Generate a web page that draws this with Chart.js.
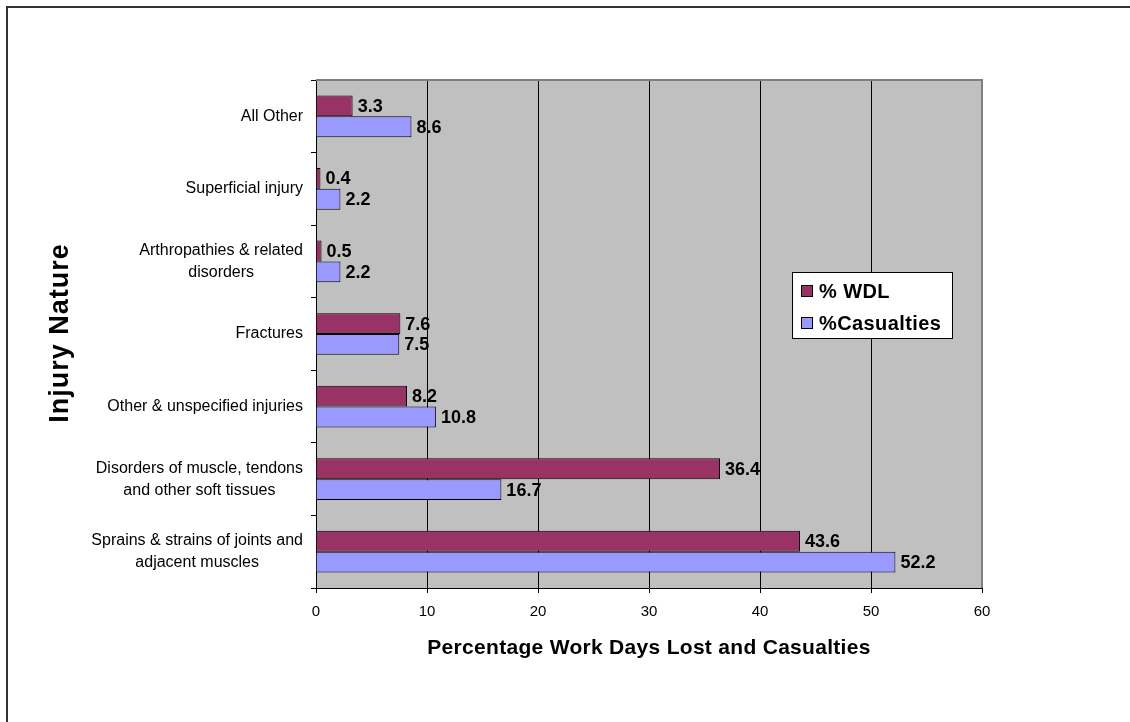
<!DOCTYPE html>
<html>
<head>
<meta charset="utf-8">
<style>
  html, body { margin: 0; padding: 0; background: #ffffff; }
  #wrap { position: relative; width: 1130px; height: 722px; }
</style>
<script src="https://cdn.jsdelivr.net/npm/chart.js@4.4.1/dist/chart.umd.min.js"></script>
</head>
<body>
<div id="wrap"><canvas id="chart" width="1130" height="722"></canvas></div>
<script>
// Injury categories, top to bottom
const categories = [
  ["All Other"],
  ["Superficial injury"],
  ["Arthropathies & related", "disorders"],
  ["Fractures"],
  ["Other & unspecified injuries"],
  ["Disorders of muscle, tendons", "and other soft tissues"],
  ["Sprains & strains of joints and", "adjacent muscles"]
];
const wdlValues = [3.3, 0.4, 0.5, 7.6, 8.2, 36.4, 43.6];
const casualtyValues = [8.6, 2.2, 2.2, 7.5, 10.8, 16.7, 52.2];
const seriesNames = ["% WDL", "%Casualties"];
const xTicks = [0, 10, 20, 30, 40, 50, 60];
const xTitle = "Percentage Work Days Lost and Casualties";
const yTitle = "Injury Nature";

const FONT = "'Liberation Sans', Arial, Helvetica, sans-serif";
const WDL_COLOR = "#993366";
const CAS_COLOR = "#9999FF";

// Page frame, grey plot background and plot border
const framePlugin = {
  id: "frame",
  beforeDraw(chart) {
    const ctx = chart.ctx;
    const a = chart.chartArea;
    ctx.save();
    ctx.fillStyle = "#ffffff";
    ctx.fillRect(0, 0, chart.width, chart.height);
    ctx.strokeStyle = "#333333";
    ctx.lineWidth = 2;
    ctx.beginPath();
    ctx.moveTo(7, chart.height + 5);
    ctx.lineTo(7, 7);
    ctx.lineTo(chart.width + 5, 7);
    ctx.stroke();
    ctx.fillStyle = "#C0C0C0";
    ctx.fillRect(a.left, a.top, a.right - a.left, a.bottom - a.top);
    ctx.restore();
  },
  beforeDatasetsDraw(chart) {
    const ctx = chart.ctx;
    const a = chart.chartArea;
    ctx.save();
    ctx.strokeStyle = "#808080";
    ctx.lineWidth = 2;
    ctx.beginPath();
    ctx.moveTo(a.left, a.top);
    ctx.lineTo(a.right, a.top);
    ctx.lineTo(a.right, a.bottom);
    ctx.stroke();
    ctx.restore();
  }
};

// Category labels (block right-aligned against the axis, lines centred) and axis titles
const axisTextPlugin = {
  id: "axisText",
  afterDraw(chart) {
    const ctx = chart.ctx;
    const y = chart.scales.y;
    const a = chart.chartArea;
    ctx.save();
    ctx.font = "16px " + FONT;
    ctx.fillStyle = "#000000";
    ctx.textAlign = "center";
    ctx.textBaseline = "middle";
    const right = y.right - 13;
    const lineH = 22;
    categories.forEach((lines, i) => {
      const cy = y.getPixelForValue(i);
      const w = Math.max(...lines.map(l => ctx.measureText(l).width));
      const cx = right - w / 2;
      const y0 = cy - (lines.length - 1) * lineH / 2;
      lines.forEach((l, k) => ctx.fillText(l, cx, y0 + k * lineH));
    });

    // x axis title
    ctx.font = "bold 21px " + FONT;
    ctx.letterSpacing = "0.3px";
    ctx.fillText(xTitle, (a.left + a.right) / 2, 648);

    // y axis title, rotated
    ctx.font = "bold 27px " + FONT;
    ctx.letterSpacing = "1px";
    ctx.translate(61, (a.top + a.bottom) / 2 - 1);
    ctx.rotate(-Math.PI / 2);
    ctx.fillText(yTitle, 0, 0);
    ctx.restore();
  }
};

// Value labels at the end of every bar
const valueLabelPlugin = {
  id: "valueLabels",
  afterDatasetsDraw(chart) {
    const ctx = chart.ctx;
    ctx.save();
    ctx.font = "bold 18px " + FONT;
    ctx.fillStyle = "#000000";
    ctx.textAlign = "left";
    ctx.textBaseline = "middle";
    chart.data.datasets.forEach((ds, di) => {
      const meta = chart.getDatasetMeta(di);
      meta.data.forEach((bar, i) => {
        ctx.fillText(ds.data[i].toFixed(1), bar.x + 5, bar.y + 1);
      });
    });
    ctx.restore();
  }
};

// Boxed legend inside the plot area
const boxLegendPlugin = {
  id: "boxLegend",
  afterDraw(chart) {
    const ctx = chart.ctx;
    const a = chart.chartArea;
    const bx = a.right - 190, by = a.top + 192, bw = 160, bh = 66;
    ctx.save();
    ctx.fillStyle = "#ffffff";
    ctx.fillRect(bx, by, bw, bh);
    ctx.strokeStyle = "#000000";
    ctx.lineWidth = 1;
    ctx.strokeRect(bx + 0.5, by + 0.5, bw, bh);
    ctx.font = "bold 20px " + FONT;
    ctx.letterSpacing = "0.4px";
    ctx.textBaseline = "middle";
    chart.data.datasets.forEach((ds, i) => {
      const ry = by + 19 + i * 32;
      ctx.fillStyle = ds.backgroundColor;
      ctx.fillRect(bx + 9, ry - 6, 12, 12);
      ctx.strokeStyle = "#000000";
      ctx.strokeRect(bx + 9.5, ry - 5.5, 11, 11);
      ctx.fillStyle = "#000000";
      ctx.fillText(ds.label, bx + 27, ry + 1);
    });
    ctx.restore();
  }
};

new Chart(document.getElementById("chart"), {
  type: "bar",
  data: {
    labels: categories.map(c => c.join(" ")),
    datasets: [
      {
        label: seriesNames[0],
        data: wdlValues,
        backgroundColor: WDL_COLOR,
        borderColor: "#000000",
        borderWidth: 1,
        categoryPercentage: 0.575,
        barPercentage: 1.0
      },
      {
        label: seriesNames[1],
        data: casualtyValues,
        backgroundColor: CAS_COLOR,
        borderColor: "#000000",
        borderWidth: 1,
        categoryPercentage: 0.575,
        barPercentage: 1.0
      }
    ]
  },
  options: {
    indexAxis: "y",
    responsive: false,
    animation: false,
    layout: { padding: { top: 80, right: 148, bottom: 0, left: 0 } },
    plugins: {
      legend: { display: false },
      tooltip: { enabled: false }
    },
    scales: {
      x: {
        min: xTicks[0],
        max: xTicks[xTicks.length - 1],
        afterBuildTicks(scale) {
          scale.ticks = xTicks.map(v => ({ value: v }));
        },
        afterFit(scale) { scale.height = 134; },
        grid: {
          color: "#000000",
          lineWidth: 1,
          drawTicks: true,
          tickLength: 5,
          tickColor: "#000000"
        },
        border: { display: true, color: "#000000", width: 1 },
        ticks: {
          color: "#000000",
          font: { family: FONT, size: 15 },
          padding: 10,
          maxRotation: 0
        },
        title: { display: false }
      },
      y: {
        afterFit(scale) { scale.width = 316; },
        grid: {
          offset: true,
          drawOnChartArea: false,
          drawTicks: true,
          tickLength: 5,
          tickColor: "#000000",
          color: "#000000"
        },
        border: { display: true, color: "#000000", width: 1 },
        ticks: { display: false },
        title: { display: false }
      }
    }
  },
  plugins: [framePlugin, valueLabelPlugin, boxLegendPlugin, axisTextPlugin]
});
</script>
</body>
</html>
